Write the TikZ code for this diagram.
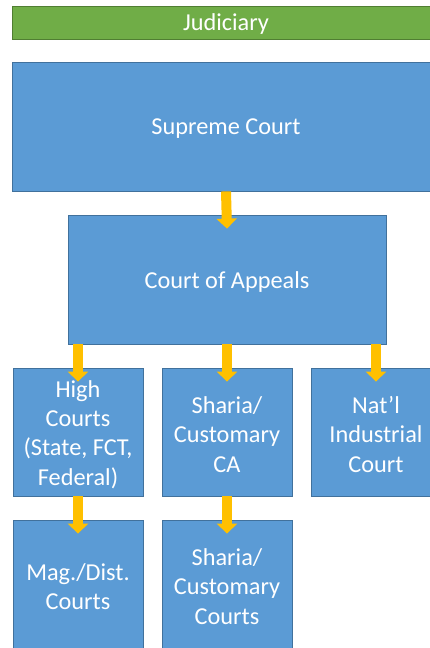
\documentclass[tikz,border=0pt]{standalone}
\usepackage{fontspec}
\setmainfont{Carlito}
\usetikzlibrary{arrows.meta}
\definecolor{boxblue}{HTML}{5B9BD5}
\definecolor{boxedge}{HTML}{41719C}
\definecolor{bargreen}{HTML}{70AD47}
\definecolor{baredge}{HTML}{507E32}
\definecolor{arrowgold}{HTML}{FFC000}
\begin{document}
\begin{tikzpicture}[x=1pt,y=-1pt,
  lbl/.style={text=white, font=\fontsize{24.3}{29.3}\selectfont, align=center, inner sep=0pt},
  box/.style={draw=boxedge, line width=0.8pt, fill=boxblue, inner sep=0pt,
    label={[lbl,yshift=-2.5pt]center:{#1}}},
  bar/.style={draw=baredge, line width=0.8pt, fill=bargreen, inner sep=0pt, minimum width=428pt, minimum height=33pt,
    label={[lbl,yshift=-1.5pt]center:{#1}}},
  arr/.style={draw=arrowgold, line width=10pt, -{Triangle[width=20pt,length=10pt]}}
]
\useasboundingbox (0,0) rectangle (430,648);
\fill[white] (0,0) rectangle (430,648);
\clip (0,0) rectangle (430,648);
\node[bar={Judiciary}] (jud) at (226,22.5) {};
\node[box={Supreme Court}, minimum width=428pt, minimum height=129pt] (sc) at (226,126.5) {};
\node[box={Court of Appeals}, minimum width=318pt, minimum height=129pt] (coa) at (227,279.5) {};
\node[box={High\\Courts\\(State, FCT,\\Federal)}, minimum width=130pt, minimum height=128pt] (hc) at (78,432) {};
\node[box={Sharia/\\Customary\\CA}, minimum width=130pt, minimum height=128pt] (sca) at (227,432) {};
\node[box={Nat’l\\Industrial\\Court}, minimum width=130pt, minimum height=128pt] (nic) at (376,432) {};
\node[box={Mag./Dist.\\Courts}, minimum width=130pt, minimum height=128pt] (mag) at (78,584) {};
\node[box={Sharia/\\Customary\\Courts}, minimum width=130pt, minimum height=128pt] (scc) at (227,584) {};
\draw[arr] (sc.south) -- ([yshift=-14pt]coa.north);
\draw[arr] ([xshift=-149pt]coa.south) -- ([yshift=-14pt]hc.north);
\draw[arr] (coa.south) -- ([yshift=-14pt]sca.north);
\draw[arr] ([xshift=149pt]coa.south) -- ([yshift=-14pt]nic.north);
\draw[arr] (hc.south) -- ([yshift=-14pt]mag.north);
\draw[arr] (sca.south) -- ([yshift=-14pt]scc.north);
\end{tikzpicture}
\end{document}
